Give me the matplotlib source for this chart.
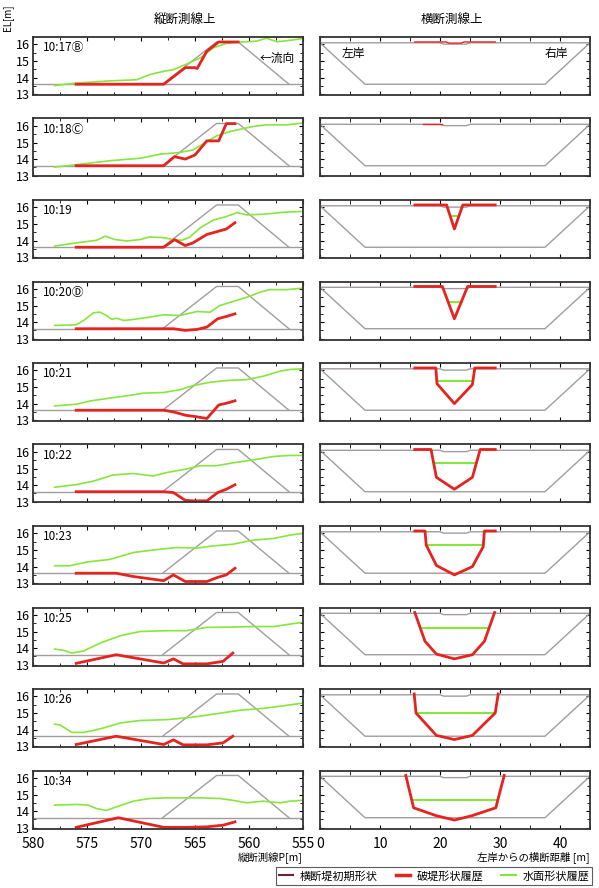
import numpy as np
import matplotlib.pyplot as plt
from matplotlib.lines import Line2D
from matplotlib.ticker import MultipleLocator

plt.rcParams['font.family'] = ['Noto Sans CJK JP', 'DejaVu Sans']

# time of each snapshot (with survey mark)
times = ["10:17Ⓑ", "10:18Ⓒ", "10:19", "10:20Ⓓ", "10:21",
         "10:22", "10:23", "10:25", "10:26", "10:34"]

# initial levee shape
long_levee_x = [568.0, 563.0, 561.0, 556.3]
long_levee_y = [13.6, 16.15, 16.15, 13.6]
base_el = 13.6
cross_levee_x = [0, 7.5, 37.5, 45]
cross_levee_y = [16.1, 13.6, 13.6, 16.1]
crown_x = [0, 20, 20.6, 24.4, 25, 45]
crown_y = [16.1, 16.1, 16.02, 16.02, 16.1, 16.1]

# longitudinal section: breach shape history
long_red_x = [
    [576, 567.9, 565.9, 565.0, 564.8, 563.9, 562.8, 561.0],
    [576, 567.9, 566.9, 565.9, 565.0, 563.9, 562.8, 562.1, 561.3],
    [576, 567.9, 566.9, 565.9, 565.2, 563.9, 562.1, 561.3],
    [576, 567.9, 567.0, 565.9, 564.8, 563.9, 562.9, 562.1, 561.3],
    [576, 567.9, 567.0, 565.9, 564.8, 563.9, 562.8, 562.1, 561.3],
    [576, 567.9, 567.0, 565.9, 565.2, 563.9, 562.9, 562.1, 561.3],
    [576, 572.3, 570.7, 567.9, 567.0, 565.9, 563.9, 562.9, 562.1, 561.3],
    [576, 572.3, 567.9, 567.0, 566.1, 563.9, 562.4, 561.5],
    [576, 572.3, 567.9, 567.0, 566.1, 563.9, 562.4, 561.5],
    [576, 572.1, 567.9, 565.8, 563.9, 562.4, 561.3],
]
long_red_y = [
    [13.6, 13.6, 14.6, 14.6, 14.55, 15.6, 16.15, 16.15],
    [13.6, 13.6, 14.15, 14.0, 14.25, 15.1, 15.1, 16.14, 16.14],
    [13.6, 13.6, 14.06, 13.7, 13.86, 14.37, 14.7, 15.08],
    [13.6, 13.6, 13.6, 13.5, 13.56, 13.7, 14.2, 14.34, 14.5],
    [13.6, 13.6, 13.5, 13.3, 13.2, 13.1, 13.92, 14.02, 14.17],
    [13.6, 13.6, 13.55, 13.08, 13.05, 13.05, 13.55, 13.75, 14.02],
    [13.6, 13.6, 13.4, 13.15, 13.5, 13.1, 13.1, 13.35, 13.5, 13.9],
    [13.08, 13.6, 13.1, 13.35, 13.05, 13.05, 13.2, 13.7],
    [13.1, 13.6, 13.1, 13.38, 13.08, 13.08, 13.2, 13.6],
    [13.02, 13.6, 13.02, 13.02, 13.05, 13.15, 13.35],
]

# longitudinal section: water surface history
long_green_x = [
    [578, 576, 572.9, 570.4, 569.2, 567.9, 567.0, 565.9, 564.5, 563.3, 562.1,
     560.8, 559.3, 558.4, 557.4, 556.2, 555.1],
    [578, 576, 572.9, 570.1, 568.2, 566.4, 565.2, 563.9, 563.0, 561.8, 560.8,
     559.6, 558.4, 556.5, 555.1],
    [578, 576, 574.1, 573.3, 572.4, 571.3, 570.1, 569.2, 567.9, 567.0, 566.2,
     565.5, 564.5, 563.3, 562.1, 561.1, 560.2, 558.7, 556.8, 555.1],
    [578, 576, 575.3, 574.4, 573.8, 573.2, 572.7, 572.3, 571.6, 570.7, 569.2,
     567.9, 566.4, 564.8, 563.6, 562.7, 561.5, 560.2, 559.0, 558.1, 556.5, 555.1],
    [578, 576, 574.7, 572.9, 571.3, 569.8, 567.9, 566.4, 565.2, 563.6, 562.1,
     560.2, 558.7, 557.1, 556.2, 555.1],
    [578, 576, 574.4, 572.6, 570.7, 568.9, 567.6, 565.8, 564.5, 563.0, 561.5,
     559.6, 557.7, 556.2, 555.1],
    [578, 576.6, 575.0, 572.9, 570.7, 568.9, 566.7, 564.8, 563.3, 561.5, 559.6,
     557.7, 556.2, 555.1],
    [578, 577.2, 576.4, 575.3, 573.8, 571.9, 570.1, 567.6, 565.8, 563.9, 561.5,
     559.6, 557.7, 556.2, 555.1],
    [578, 577.5, 576.4, 575.3, 573.8, 571.9, 570.1, 567.6, 565.2, 563.0, 560.8,
     558.7, 556.8, 555.1],
    [578, 576, 574.9, 574.1, 573.2, 572.3, 570.7, 569.2, 567.6, 564.5, 562.7,
     561.5, 560.2, 558.7, 557.1, 556.2, 555.1],
]
long_green_y = [
    [13.52, 13.67, 13.8, 13.87, 14.18, 14.38, 14.48, 14.78, 15.19, 15.8, 16.06,
     16.14, 16.2, 16.38, 16.16, 16.25, 16.35],
    [13.52, 13.66, 13.9, 14.05, 14.3, 14.4, 14.55, 15.06, 15.4, 15.66, 15.8,
     15.97, 16.07, 16.07, 16.17],
    [13.67, 13.86, 14.02, 14.27, 14.06, 13.98, 14.06, 14.22, 14.18, 14.06, 14.02,
     14.2, 14.78, 15.24, 15.45, 15.69, 15.55, 15.59, 15.71, 15.76],
    [13.8, 13.84, 14.1, 14.56, 14.6, 14.4, 14.16, 14.24, 14.1, 14.16, 14.3,
     14.44, 14.4, 14.64, 14.6, 15.0, 15.24, 15.5, 15.8, 15.96, 15.96, 16.04],
    [13.86, 13.96, 14.16, 14.33, 14.47, 14.63, 14.67, 14.84, 15.08, 15.29, 15.39,
     15.45, 15.65, 15.96, 16.06, 16.1],
    [13.87, 14.03, 14.24, 14.61, 14.7, 14.55, 14.76, 14.97, 15.17, 15.17, 15.34,
     15.52, 15.73, 15.79, 15.79],
    [14.05, 14.05, 14.28, 14.43, 14.85, 15.0, 15.15, 15.12, 15.25, 15.35, 15.6,
     15.7, 15.9, 16.0],
    [13.94, 13.87, 13.7, 13.83, 14.3, 14.75, 15.0, 15.05, 15.05, 15.25, 15.27,
     15.3, 15.3, 15.45, 15.55],
    [14.33, 14.28, 13.83, 13.83, 14.04, 14.4, 14.55, 14.6, 14.75, 14.96, 15.17,
     15.28, 15.44, 15.59],
    [14.36, 14.4, 14.36, 14.15, 14.04, 14.25, 14.6, 14.76, 14.8, 14.8, 14.76,
     14.65, 14.5, 14.6, 14.5, 14.6, 14.65],
]

# cross section: breach shape history
cross_red_x = [
    [15.8, 21.0, 21.5, 23.5, 24.0, 29.2],
    [17.2, 20.3],
    [15.8, 21.1, 22.4, 23.8, 29.2],
    [15.8, 20.4, 22.4, 24.6, 29.2],
    [15.8, 19.3, 19.5, 22.4, 25.4, 25.8, 29.2],
    [15.8, 18.5, 19.4, 22.4, 25.4, 26.7, 29.2],
    [15.8, 17.5, 17.7, 19.4, 22.4, 25.4, 27.2, 27.4, 29.2],
    [15.8, 17.5, 19.4, 22.4, 25.4, 27.4, 29.1],
    [15.7, 16.0, 19.4, 22.4, 25.4, 29.2, 29.7],
    [14.3, 15.6, 19.4, 22.4, 25.3, 29.3, 30.7],
]
cross_red_y = [
    [16.15, 16.15, 16.08, 16.08, 16.15, 16.15],
    [16.12, 16.12],
    [16.15, 16.15, 14.7, 16.15, 16.15],
    [16.15, 16.15, 14.2, 16.15, 16.15],
    [16.15, 16.15, 15.2, 14.0, 15.15, 16.15, 16.15],
    [16.15, 16.15, 14.47, 13.75, 14.47, 16.15, 16.15],
    [16.15, 16.15, 15.3, 14.07, 13.5, 14.0, 15.2, 16.15, 16.15],
    [16.15, 14.41, 13.64, 13.35, 13.6, 14.41, 16.15],
    [16.15, 15.0, 13.65, 13.4, 13.65, 15.0, 16.15],
    [16.15, 14.2, 13.72, 13.46, 13.72, 14.2, 16.15],
]

# cross section: water surface history
cross_green_x = [[], [], [21.9, 22.9], [21.5, 23.6], [19.6, 25.2], [19.2, 25.8],
                 [17.7, 27.2], [17.2, 27.8], [16.0, 29.2], [15.4, 29.4]]
cross_green_y = [[], [], [15.5, 15.5], [15.2, 15.2], [15.35, 15.35], [15.32, 15.32],
                 [15.3, 15.3], [15.2, 15.2], [15.0, 15.0], [14.7, 14.7]]

red = '#e5231f'
green = '#86e63c'
gray = '#a39c9f'
W, H = 599, 888

fig = plt.figure(figsize=(W / 100, H / 100), dpi=100)


def style_axes(ax):
    ax.tick_params(which='both', direction='in', top=True, right=True,
                   labelsize=9, pad=2)
    ax.tick_params(which='major', length=3)
    ax.tick_params(which='minor', length=2)
    for s in ax.spines.values():
        s.set_linewidth(1.3)
        s.set_color('#333333')
    ax.set_ylim(12.95, 16.45)
    ax.yaxis.set_major_locator(MultipleLocator(1))
    ax.yaxis.set_minor_locator(MultipleLocator(0.5))


for i in range(10):
    top = 37 + 81.5 * i
    h = 58
    b = 1 - (top + h) / H

    # longitudinal panel
    axl = fig.add_axes([33 / W, b, 270 / W, h / H])
    axl.axhline(base_el, color=gray, lw=1)
    axl.plot(long_levee_x, long_levee_y, color=gray, lw=1)
    axl.plot(long_green_x[i], long_green_y[i], color=green, lw=1.2)
    axl.plot(long_red_x[i], long_red_y[i], color=red, lw=2)
    axl.set_xlim(580, 555)
    style_axes(axl)
    axl.xaxis.set_major_locator(MultipleLocator(5))
    axl.xaxis.set_minor_locator(MultipleLocator(2.5))
    axl.text(0.035, 0.93, times[i], transform=axl.transAxes, fontsize=8.5,
             va='top', ha='left')
    if i < 9:
        axl.tick_params(labelbottom=False)
    else:
        axl.tick_params(axis='x', labelsize=10, pad=6)

    # cross section panel
    axr = fig.add_axes([320 / W, b, 270 / W, h / H])
    axr.plot(cross_levee_x, cross_levee_y, color=gray, lw=1)
    axr.plot(crown_x, crown_y, color=gray, lw=1)
    if cross_green_x[i]:
        axr.plot(cross_green_x[i], cross_green_y[i], color=green, lw=1.5)
    axr.plot(cross_red_x[i], cross_red_y[i], color=red, lw=1 if i < 2 else 2)
    axr.set_xlim(0, 45)
    style_axes(axr)
    axr.xaxis.set_major_locator(MultipleLocator(10))
    axr.xaxis.set_minor_locator(MultipleLocator(5))
    axr.tick_params(labelleft=False)
    axr.xaxis.set_tick_params(which='minor', length=3)
    if i < 9:
        axr.tick_params(labelbottom=False)
    else:
        axr.tick_params(axis='x', labelsize=10, pad=6)

    if i == 0:
        axl.text(0.97, 0.64, '←流向', transform=axl.transAxes, fontsize=8.5,
                 ha='right', va='center')
        axr.text(0.08, 0.72, '左岸', transform=axr.transAxes, fontsize=8.5,
                 ha='left', va='center')
        axr.text(0.92, 0.72, '右岸', transform=axr.transAxes, fontsize=8.5,
                 ha='right', va='center')

fig.text(185 / W, 1 - 20 / H, '縦断測線上', ha='center', va='center', fontsize=9)
fig.text(452 / W, 1 - 20 / H, '横断測線上', ha='center', va='center', fontsize=9)
fig.text(8 / W, 1 - 18 / H, 'EL[m]', rotation=90, ha='center', va='center',
         fontsize=7)
fig.text(303 / W, 1 - 857 / H, '縦断測線P[m]', ha='right', va='center',
         fontsize=7.5)
fig.text(590 / W, 1 - 857 / H, '左岸からの横断距離 [m]', ha='right',
         va='center', fontsize=7.5)

handles = [Line2D([], [], color='#6e2333', lw=1.5),
           Line2D([], [], color=red, lw=2.5),
           Line2D([], [], color=green, lw=1.5)]
labels = ['横断堤初期形状', '破堤形状履歴', '水面形状履歴']
leg = fig.legend(handles, labels, ncol=3, loc='center',
                 bbox_to_anchor=(434 / W, 1 - 876 / H), fontsize=8,
                 frameon=True, fancybox=False, handlelength=1.3,
                 columnspacing=1.6, handletextpad=0.6, borderpad=0.3)
leg.get_frame().set_edgecolor('#333333')
leg.get_frame().set_linewidth(0.8)

fig.savefig('out.png', dpi=100)
